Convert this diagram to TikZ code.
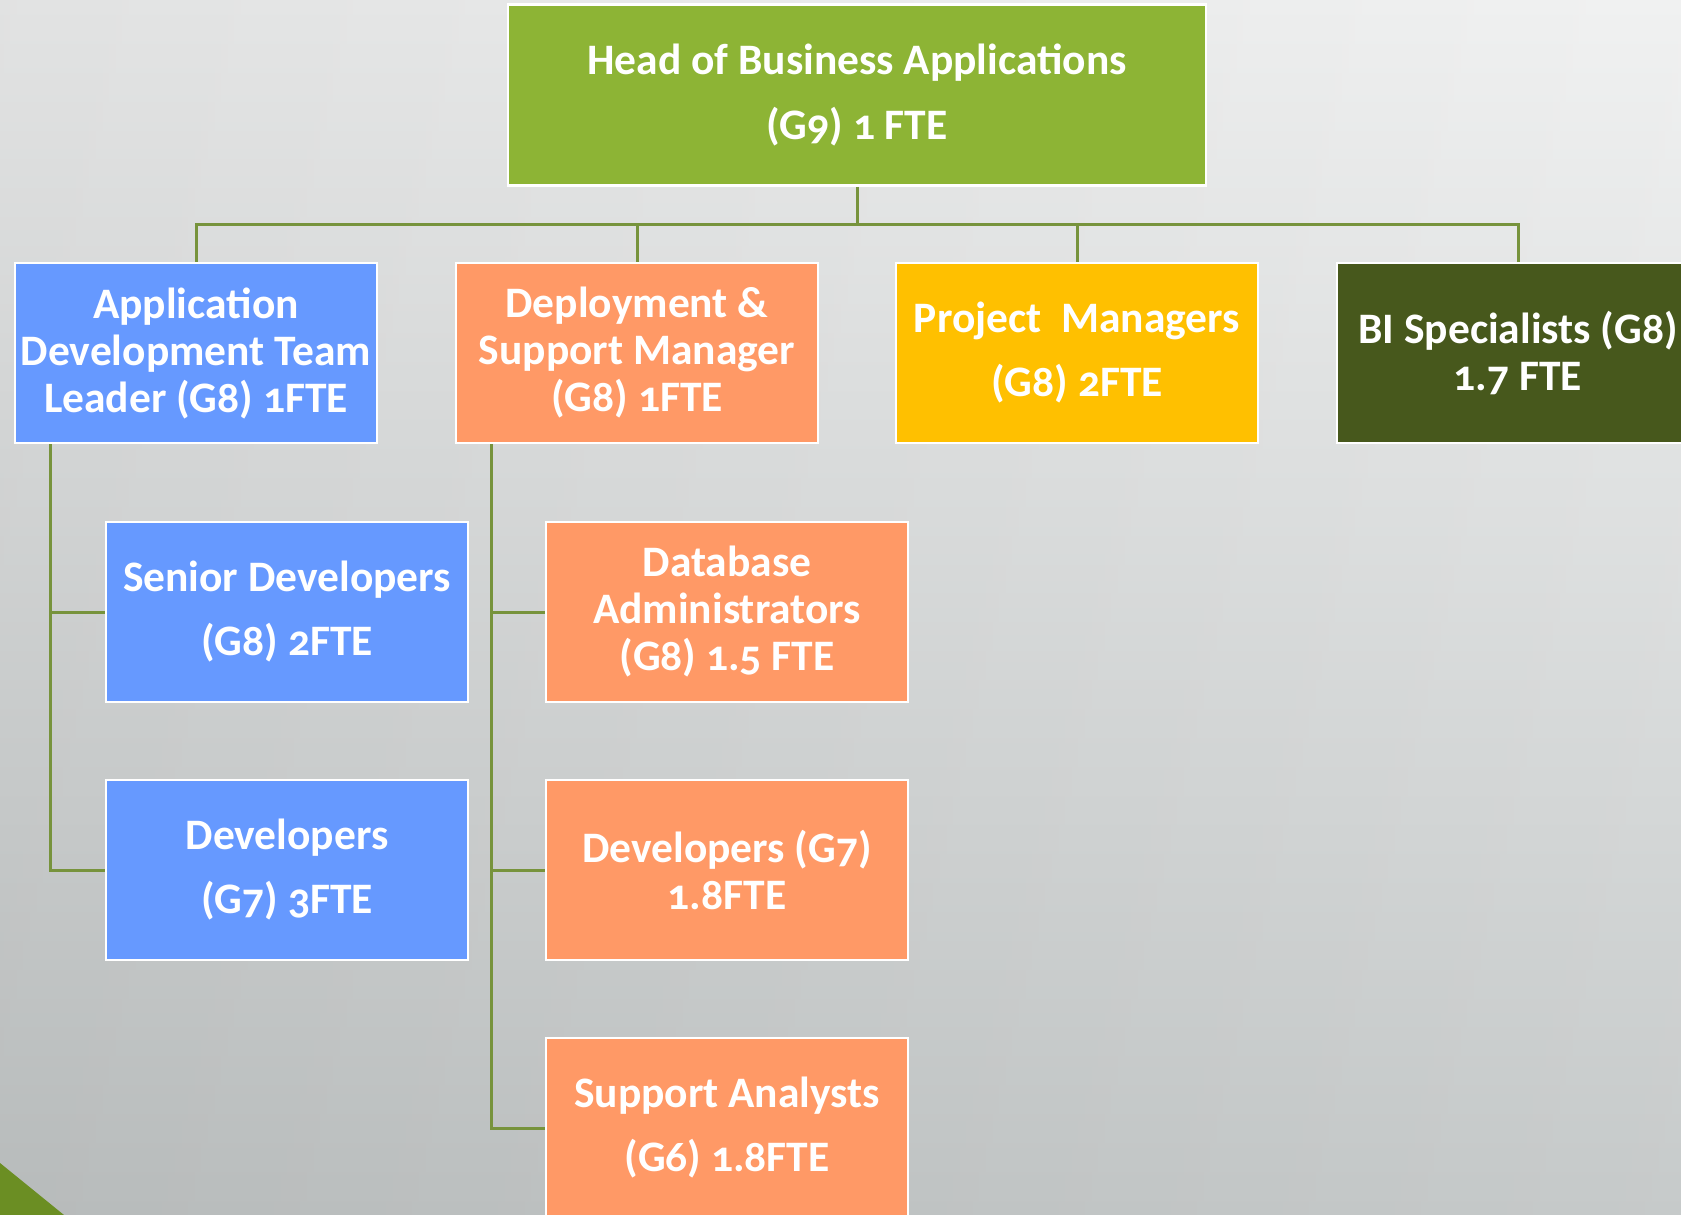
\documentclass[tikz,border=0pt]{standalone}
\usepackage{fontspec}
\setmainfont{Carlito}[Numbers=OldStyle]
\definecolor{bgtop}{RGB}{240,241,241}
\definecolor{bgbot}{RGB}{195,199,199}
\definecolor{headgreen}{RGB}{141,180,53}
\definecolor{boxblue}{RGB}{102,153,255}
\definecolor{boxorange}{RGB}{255,153,102}
\definecolor{boxyellow}{RGB}{255,192,0}
\definecolor{boxdark}{RGB}{71,88,28}
\definecolor{connc}{RGB}{119,147,60}
\definecolor{trig}{RGB}{107,142,35}
\tikzset{
  box/.style={draw=white, line width=2.5pt, minimum width=362pt, minimum height=180pt,
    inner sep=0pt, align=center, text=white, font=\bfseries\fontsize{43.5}{47}\selectfont},
  conn/.style={draw=connc, line width=3pt}
}
\begin{document}
\begin{tikzpicture}[x=1pt,y=-1pt]
\useasboundingbox (0,0) rectangle (1681,1215);
\clip (0,0) rectangle (1681,1215);
\shade[top color=bgtop, bottom color=bgbot] (0,0) rectangle (1681,1215);
\shade[left color=black, right color=white, opacity=0.06] (0,0) rectangle (1681,1215);
\fill[trig] (0,1163) -- (64,1215) -- (0,1215) -- cycle;

\node[box, fill=headgreen, minimum width=698pt, minimum height=181pt] (head) at (857,95) {Head of Business Applications\\[18pt](G9) 1 FTE};

\node[box, fill=boxblue] (ad) at (196,353) {Application\\Development Team\\Leader (G8) 1FTE};
\node[box, fill=boxorange] (dep) at (637,353) {Deployment \&\\Support Manager\\(G8) 1FTE};
\node[box, fill=boxyellow] (pm) at (1077,353) {Project~~Managers\\[17pt](G8) 2FTE};
\node[box, fill=boxdark] (bi) at (1518,353) {BI Specialists (G8)\\1.7 FTE};

\node[box, fill=boxblue] (sen) at (287,612) {Senior Developers\\[17pt](G8) 2FTE};
\node[box, fill=boxblue] (dev) at (287,870) {Developers\\[17pt](G7) 3FTE};

\node[box, fill=boxorange] (dba) at (727,612) {Database\\Administrators\\(G8) 1.5 FTE};
\node[box, fill=boxorange] (dev7) at (727,870) {Developers (G7)\\1.8FTE};
\node[box, fill=boxorange] (sup) at (727,1128) {Support Analysts\\[17pt](G6) 1.8FTE};

\coordinate (bus) at (196,224);
\draw[conn] (head.south) -- (head.south |- bus);
\draw[conn] (ad.north) -- (ad.north |- bus) -- (bi.north |- bus) -- (bi.north);
\draw[conn] (dep.north) -- (dep.north |- bus);
\draw[conn] (pm.north) -- (pm.north |- bus);

\coordinate (adl) at (50,444);
\draw[conn] (adl) |- (dev.west);
\draw[conn] (adl |- sen.west) -- (sen.west);
\coordinate (depl) at (491,444);
\draw[conn] (depl) |- (sup.west);
\draw[conn] (depl |- dba.west) -- (dba.west);
\draw[conn] (depl |- dev7.west) -- (dev7.west);
\end{tikzpicture}
\end{document}
